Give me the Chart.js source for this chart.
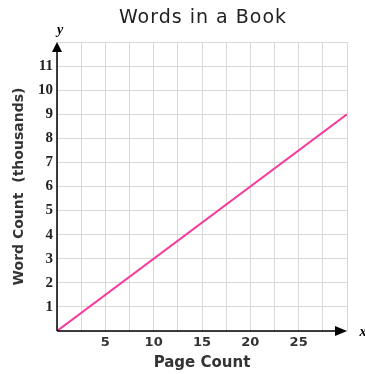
<!DOCTYPE html>
<html>
<head>
<meta charset="utf-8">
<script src="https://cdn.jsdelivr.net/npm/chart.js@4.4.0/dist/chart.umd.min.js"></script>
<style>
  html, body { margin: 0; padding: 0; background: #fff; }
  #wrap { width: 365px; height: 374px; }
</style>
</head>
<body>
<div id="wrap"><canvas id="bookChart" width="365" height="374"></canvas></div>
<script>
const chartTitle = "Words in a Book";
const xTitle = "Page Count";
const yTitle = "Word Count  (thousands)";
const pageCounts = [0, 30];
const wordCounts = [0, 9];
const xRange = [0, 30];
const yRange = [0, 12];
const xTickLabels = [5, 10, 15, 20, 25];
const yTickLabels = [1, 2, 3, 4, 5, 6, 7, 8, 9, 10, 11];

const LINE_COLOR = "#f7389a";
const GRID_COLOR = "#d8d8d8";

// arrows on the axes plus the little x / y letters
const axisArrows = {
  id: "axisArrows",
  afterDatasetsDraw(chart) {
    const { ctx, chartArea } = chart;
    const x0 = chart.scales.x.getPixelForValue(0);
    const y0 = chart.scales.y.getPixelForValue(0);
    ctx.save();
    ctx.strokeStyle = "#000";
    ctx.fillStyle = "#000";
    ctx.lineWidth = 1.5;
    ctx.beginPath();
    ctx.moveTo(x0, y0);
    ctx.lineTo(x0, chartArea.top + 6);
    ctx.moveTo(x0, y0);
    ctx.lineTo(chartArea.right - 6, y0);
    ctx.stroke();

    ctx.beginPath();
    ctx.moveTo(x0, chartArea.top);
    ctx.lineTo(x0 - 5, chartArea.top + 10);
    ctx.lineTo(x0 + 5, chartArea.top + 10);
    ctx.closePath();
    ctx.fill();

    ctx.beginPath();
    ctx.moveTo(chartArea.right, y0);
    ctx.lineTo(chartArea.right - 12, y0 - 5);
    ctx.lineTo(chartArea.right - 12, y0 + 5);
    ctx.closePath();
    ctx.fill();

    ctx.font = "italic bold 14px 'Liberation Serif'";
    ctx.textAlign = "center";
    ctx.textBaseline = "middle";
    ctx.fillText("y", x0 + 3, chartArea.top - 12);
    ctx.fillText("x", chartArea.right + 16, y0 + 1);
    ctx.restore();
  },
};

const ctx = document.getElementById("bookChart").getContext("2d");

new Chart(ctx, {
  type: "scatter",
  data: {
    datasets: [
      {
        data: pageCounts.map((p, i) => ({ x: p, y: wordCounts[i] })),
        showLine: true,
        borderColor: LINE_COLOR,
        borderWidth: 2,
        pointRadius: 0,
      },
    ],
  },
  options: {
    responsive: false,
    animation: false,
    layout: { padding: { top: 42, right: 18, left: 0, bottom: 0 } },
    plugins: {
      legend: { display: false },
      tooltip: { enabled: false },
      title: { display: false },
    },
    scales: {
      x: {
        type: "linear",
        min: xRange[0],
        max: xRange[1],
        afterFit: (scale) => { scale.height = 43; },
        grid: { color: GRID_COLOR, drawTicks: false },
        border: { display: false },
        ticks: {
          stepSize: 2.5,
          autoSkip: false,
          maxRotation: 0,
          padding: 4,
          color: "#333",
          font: { family: "'DejaVu Sans'", size: 13, weight: "bold" },
          callback: (v) => (xTickLabels.includes(v) ? v : ""),
        },
        title: {
          display: true,
          text: xTitle,
          color: "#333",
          padding: { top: 2, bottom: 2 },
          font: { family: "'DejaVu Sans'", size: 15, weight: "bold" },
        },
      },
      y: {
        type: "linear",
        min: yRange[0],
        max: yRange[1],
        afterFit: (scale) => { scale.width = 57; },
        grid: { color: GRID_COLOR, drawTicks: false },
        border: { display: false },
        ticks: {
          stepSize: 1,
          autoSkip: false,
          padding: 4,
          color: "#222",
          font: { family: "'Liberation Serif'", size: 15, weight: "bold" },
          callback: (v) => (yTickLabels.includes(v) ? v : ""),
        },
        title: {
          display: true,
          text: yTitle,
          color: "#333",
          padding: { top: 11, bottom: 0 },
          font: { family: "'DejaVu Sans'", size: 14, weight: "bold" },
        },
      },
    },
  },
  plugins: [
    axisArrows,
    {
      id: "topTitle",
      afterDraw(chart) {
        const c = chart.ctx;
        c.save();
        c.font = "19px 'DejaVu Sans'";
        c.letterSpacing = "1px";
        c.fillStyle = "#222";
        c.textAlign = "center";
        c.textBaseline = "middle";
        c.fillText(chartTitle, (chart.chartArea.left + chart.chartArea.right) / 2 + 1, 18);
        c.restore();
      },
    },
  ],
});
</script>
</body>
</html>
